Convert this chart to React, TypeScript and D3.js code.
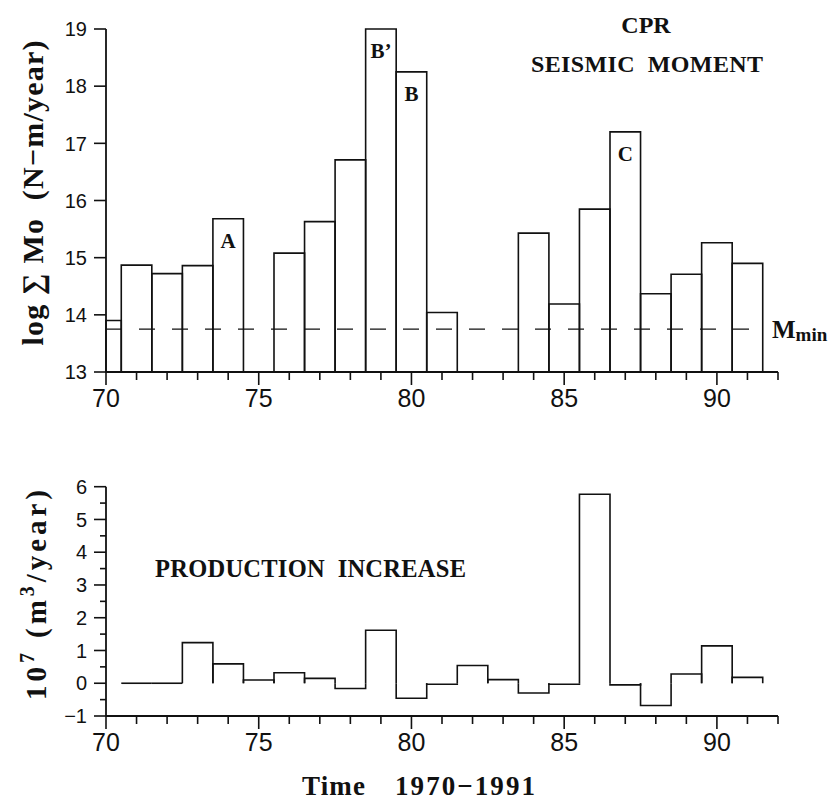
import * as React from 'react';
import * as d3 from 'd3';

// seismic moment per year, log10 sum Mo (N-m/year); null = no events
const momentYears = [70, 71, 72, 73, 74, 75, 76, 77, 78, 79, 80, 81, 82, 83, 84, 85, 86, 87, 88, 89, 90, 91];
const momentValues: (number | null)[] = [13.9, 14.87, 14.72, 14.86, 15.68, null, 15.08, 15.63, 16.71, 19.0, 18.25, 14.04, null, null, 15.43, 14.19, 15.85, 17.2, 14.37, 14.71, 15.26, 14.9];
const momentMarks = [
  { year: 74, label: 'A' },
  { year: 79, label: 'B\u2019' },
  { year: 80, label: 'B' },
  { year: 87, label: 'C' },
];
const mMin = 13.75;

// production increase, 10^7 m3/year
const prodYears = [71, 72, 73, 74, 75, 76, 77, 78, 79, 80, 81, 82, 83, 84, 85, 86, 87, 88, 89, 90, 91];
const prodValues = [0, 0, 1.24, 0.59, 0.1, 0.32, 0.15, -0.16, 1.62, -0.46, -0.03, 0.54, 0.11, -0.3, -0.03, 5.77, -0.05, -0.68, 0.28, 1.14, 0.18];

const xTicksMajor = [70, 75, 80, 85, 90];
const topYTicks = [13, 14, 15, 16, 17, 18, 19];
const botYTicks = [-1, 0, 1, 2, 3, 4, 5, 6];

const SERIF = '"Liberation Serif", "DejaVu Serif", serif';
const SANS = '"Liberation Sans", Arial, sans-serif';
const INK = '#111';

const App: React.FC = () => {
  const x = d3.scaleLinear().domain([70, 92]).range([106, 778]);
  const yTop = d3.scaleLinear().domain([13, 19]).range([372, 29]);
  const yBot = d3.scaleLinear().domain([-1, 6]).range([716, 486.7]);
  const [x0, x1] = x.domain();
  const yearTicks = d3.range(x0, x1 + 1);

  const xAxis = (yAxis: number, key: string) => (
    <g key={key}>
      <line x1={x(x0)} x2={x(x1)} y1={yAxis} y2={yAxis} stroke={INK} strokeWidth={1.8} />
      {yearTicks.map(t => {
        const major = xTicksMajor.includes(t);
        return (
          <line key={t} x1={x(t)} x2={x(t)} y1={yAxis} y2={yAxis + (major ? 13 : 8)} stroke={INK} strokeWidth={1.6} />
        );
      })}
      {xTicksMajor.map(t => (
        <text key={'l' + t} x={x(t)} y={yAxis + 35} textAnchor="middle" fontFamily={SANS} fontSize={25} fill={INK}>{t}</text>
      ))}
    </g>
  );

  const barPath = (yr: number, v: number, y: d3.ScaleLinear<number, number>, base: number) => {
    const a = x(Math.max(x0, yr - 0.5));
    const b = x(Math.min(x1, yr + 0.5));
    return `M${a},${y(base)}V${y(v)}H${b}V${y(base)}`;
  };

  return (
    <div style={{ position: 'absolute', left: 0, top: 0 }}>
      <svg width={840} height={801} style={{ display: 'block', background: '#fff' }}>
        {/* ---------- top panel: seismic moment ---------- */}
        <line x1={x(x0)} x2={x(x0)} y1={yTop(19)} y2={yTop(13)} stroke={INK} strokeWidth={1.8} />
        {topYTicks.map(t => (
          <g key={t}>
            <line x1={x(x0) - 12} x2={x(x0)} y1={yTop(t)} y2={yTop(t)} stroke={INK} strokeWidth={1.6} />
            <text x={87} y={yTop(t)} dy="0.36em" textAnchor="end" fontFamily={SANS} fontSize={20} fill={INK}>{t}</text>
          </g>
        ))}
        {xAxis(yTop(13), 'xt')}

        {momentYears.map((yr, i) => {
          const v = momentValues[i];
          if (v == null) return null;
          return <path key={yr} d={barPath(yr, v, yTop, 13) + 'Z'} fill="none" stroke={INK} strokeWidth={1.6} />;
        })}

        <line x1={x(x0)} x2={x(91.5)} y1={yTop(mMin)} y2={yTop(mMin)} stroke={INK} strokeWidth={1.4} strokeDasharray="16 17" />
        <text x={772} y={yTop(mMin) + 9} fontFamily={SERIF} fontWeight="bold" fontSize={25} fill={INK}>
          M<tspan fontSize={19} dy={3}>min</tspan>
        </text>

        {momentMarks.map(m => {
          const v = momentValues[momentYears.indexOf(m.year)] as number;
          return (
            <text key={m.label} x={x(m.year)} y={yTop(v) + 29} textAnchor="middle" fontFamily={SERIF} fontWeight="bold" fontSize={21} fill={INK}>{m.label}</text>
          );
        })}

        <text x={646} y={33} textAnchor="middle" fontFamily={SERIF} fontWeight="bold" fontSize={24} fill={INK}>CPR</text>
        <text x={647} y={72} textAnchor="middle" fontFamily={SERIF} fontWeight="bold" fontSize={24} fill={INK}
          textLength={232} lengthAdjust="spacing" style={{ whiteSpace: 'pre' }}>SEISMIC  MOMENT</text>

        <text transform="translate(43,193) rotate(-90)" textAnchor="middle" fontFamily={SERIF} fontWeight="bold" fontSize={30} fill={INK}
          textLength={305} lengthAdjust="spacing" style={{ whiteSpace: 'pre' }}>
          log ∑ Mo  (N−m/year)
        </text>

        {/* ---------- bottom panel: production increase ---------- */}
        <line x1={x(x0)} x2={x(x0)} y1={yBot(6)} y2={yBot(-1)} stroke={INK} strokeWidth={1.8} />
        {d3.range(-1, 6.01, 0.5).map(t => {
          const major = Number.isInteger(t);
          return <line key={t} x1={x(x0) - (major ? 12 : 6)} x2={x(x0)} y1={yBot(t)} y2={yBot(t)} stroke={INK} strokeWidth={1.6} />;
        })}
        {botYTicks.map(t => (
          <text key={t} x={87} y={yBot(t)} dy="0.36em" textAnchor="end" fontFamily={SANS} fontSize={20} fill={INK}>{d3.format('')(t)}</text>
        ))}
        {xAxis(yBot(-1), 'xb')}

        {prodYears.map((yr, i) => (
          <path key={yr} d={barPath(yr, prodValues[i], yBot, 0)} fill="none" stroke={INK} strokeWidth={1.6} />
        ))}

        <text x={155} y={577} fontFamily={SERIF} fontWeight="bold" fontSize={24.5} fill={INK}
          textLength={311} lengthAdjust="spacing" style={{ whiteSpace: 'pre' }}>PRODUCTION  INCREASE</text>

        <text transform="translate(46,595) rotate(-90)" textAnchor="middle" fontFamily={SERIF} fontWeight="bold" fontSize={29} fill={INK}
          textLength={210} lengthAdjust="spacing" style={{ whiteSpace: 'pre' }}>
          10<tspan fontSize={20} dy={-12}>7</tspan><tspan dy={12}> (m</tspan><tspan fontSize={20} dy={-12}>3</tspan><tspan dy={12}>/year)</tspan>
        </text>

        <text x={302} y={795} fontFamily={SERIF} fontWeight="bold" fontSize={27} fill={INK}
          textLength={63} lengthAdjust="spacing">Time</text>
        <text x={395} y={795} fontFamily={SERIF} fontWeight="bold" fontSize={27} fill={INK}
          textLength={140} lengthAdjust="spacing">1970−1991</text>
      </svg>
    </div>
  );
};

export default App;
